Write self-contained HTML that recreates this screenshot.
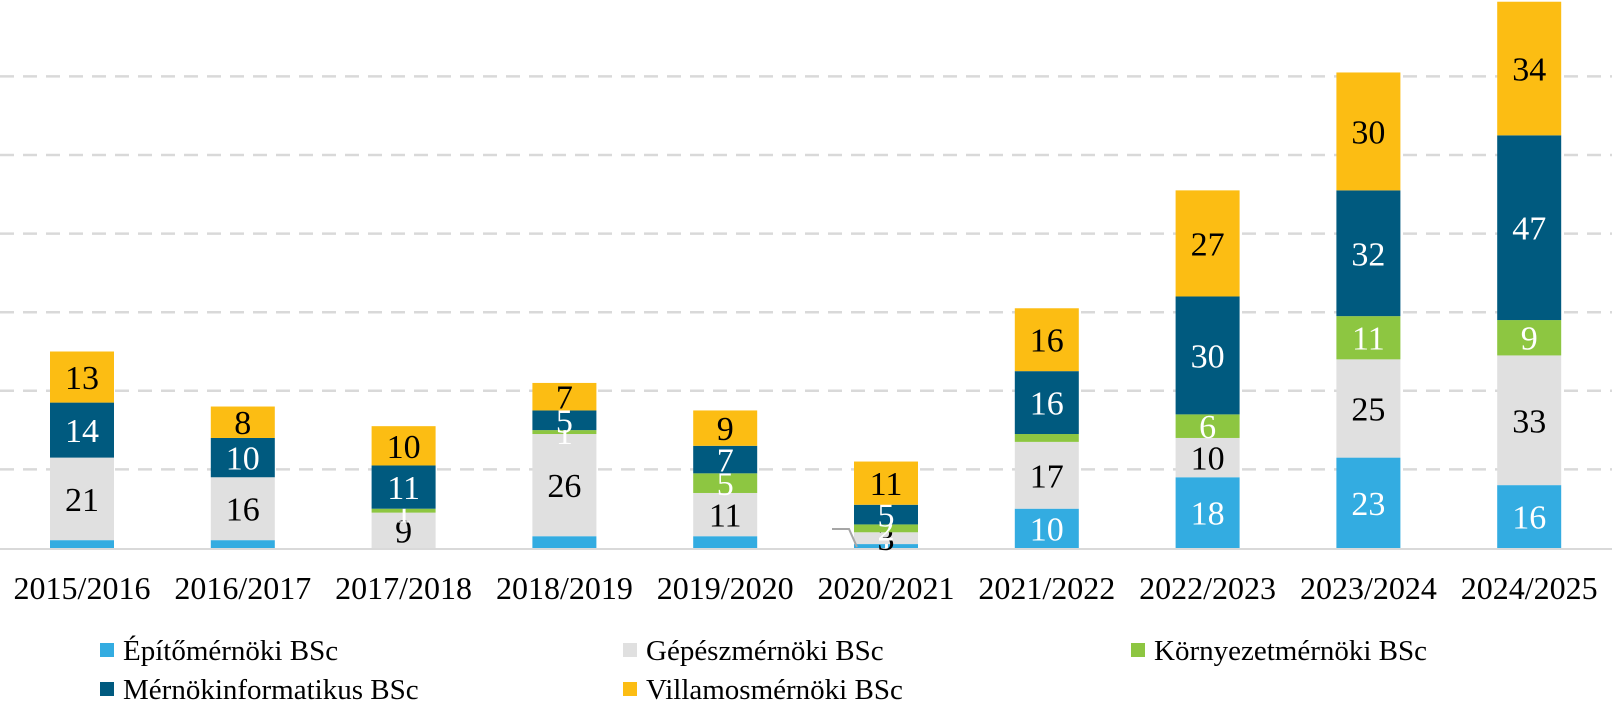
<!DOCTYPE html>
<html><head><meta charset="utf-8"><style>
body{margin:0;background:#fff;}
svg text{font-family:"Liberation Serif",serif;}
</style></head><body>
<svg id="chart" width="1612" height="700" xmlns="http://www.w3.org/2000/svg">
<g id="grid"></g>
<g id="bars"></g>
<g id="xlabels"></g>
<g id="legend"></g>
</svg>
<script>
const categories = ["2015/2016","2016/2017","2017/2018","2018/2019","2019/2020","2020/2021","2021/2022","2022/2023","2023/2024","2024/2025"];
const epito = [2,2,0,3,3,1,10,18,23,16];
const gepesz = [21,16,9,26,11,3,17,10,25,33];
const kornyezet = [0,0,1,1,5,2,2,6,11,9];
const merinfo = [14,10,11,5,7,5,16,30,32,47];
const villamos = [13,8,10,7,9,11,16,27,30,34];
const gridTicks = [20,40,60,80,100,120];
const seriesNames = ["Építőmérnöki BSc","Gépészmérnöki BSc","Környezetmérnöki BSc","Mérnökinformatikus BSc","Villamosmérnöki BSc"];
const series = [epito,gepesz,kornyezet,merinfo,villamos];
const colors = ["#33ace1","#e0e0e0","#8dc641","#005a7f","#fcbd13"];
const textColors = ["#fff","#000","#fff","#fff","#000"];
const NS="http://www.w3.org/2000/svg";
const base=548, pxPerUnit=3.93;
const y = v => base - v*pxPerUnit;
const xc = i => 82 + i*160.8;
const bw = 64;
function mk(tag,attrs,parent){const e=document.createElementNS(NS,tag);for(const k in attrs)e.setAttribute(k,attrs[k]);parent.appendChild(e);return e;}
const grid=document.getElementById('grid');
gridTicks.forEach(t=>{
  const l=mk('line',{x1:0,x2:1612,y1:y(t),y2:y(t),stroke:'#d9d9d9','stroke-width':2.5,'stroke-dasharray':'14,9'},grid);
  
  
});
const bl=mk('line',{x1:0,x2:1612,y1:base+1,y2:base+1,stroke:'#d9d9d9','stroke-width':2},grid);


const bars=document.getElementById('bars');
categories.forEach((c,i)=>{
  let acc=0;
  series.forEach((s,k)=>{
    const v=s[i]; if(v<=0){return;}
    const top=y(acc+v), bot=y(acc);
    const r=mk('rect',{x:xc(i)-bw/2,y:top,width:bw,height:bot-top,fill:colors[k]},bars);
    
    
    const showLabel = !(k===0 && v<5 && i!==5) && !(k===2 && i===6);
    if(showLabel){
      let ly=(top+bot)/2+12;
      if(i===5 && k===0) ly=bot+8;
      const t=mk('text',{x:xc(i),y:ly,'text-anchor':'middle','font-size':34,fill:textColors[k]},bars);
      t.textContent=v;
      
      
    }
    acc+=v;
  });
});
const lead=mk('polyline',{points:'832,529 849,529 857,547',fill:'none',stroke:'#a6a6a6','stroke-width':2},bars);


const xl=document.getElementById('xlabels');
categories.forEach((c,i)=>{
  const t=mk('text',{x:xc(i),y:599,'text-anchor':'middle','font-size':32,fill:'#000'},xl);
  t.textContent=c;
  
  
});
const lg=document.getElementById('legend');
const lpos=[[100,650],[623,650],[1131,650],[100,689],[623,689]];
seriesNames.forEach((n,k)=>{
  const g=mk('g',{},lg);
  
  
  mk('rect',{x:lpos[k][0],y:lpos[k][1]-7,width:14,height:14,fill:colors[k]},g);
  const t=mk('text',{x:lpos[k][0]+23,y:lpos[k][1]+10,'font-size':29,fill:'#000'},g);
  t.textContent=n;
});
</script>
</body></html>
